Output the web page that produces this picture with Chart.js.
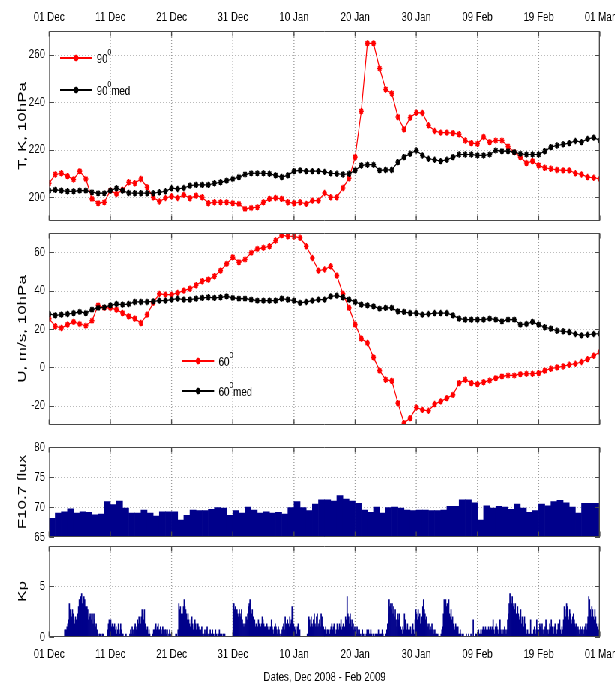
<!DOCTYPE html>
<html>
<head>
<meta charset="utf-8">
<script src="https://cdn.jsdelivr.net/npm/chart.js@4"></script>
<style>
  html, body { margin: 0; padding: 0; background: #fff; overflow: hidden; }
  /* the figure is drawn wider and squeezed sideways, like the original export */
  #wrap { position: relative; width: 820px; height: 686px; transform: scaleX(0.75); transform-origin: 0 0; }
  #wrap canvas { position: absolute; left: 0; top: 0; }
</style>
</head>
<body>
<div id="wrap">
  <canvas id="chartT" width="820" height="686"></canvas>
  <canvas id="chartU" width="820" height="686"></canvas>
  <canvas id="chartF" width="820" height="686"></canvas>
  <canvas id="chartKp" width="820" height="686"></canvas>
</div>
<script>
// x axis: days since 01 Dec 2008
const xTicks = [0, 10, 20, 30, 40, 50, 60, 70, 80, 90];
const dateLabels = ['01 Dec', '11 Dec', '21 Dec', '31 Dec', '10 Jan', '20 Jan', '30 Jan', '09 Feb', '19 Feb', '01 Mar'];
const xTitle = 'Dates, Dec 2008 - Feb 2009';
const yTitles = ['T, K, 10hPa', 'U, m/s, 10hPa', 'F10.7 flux', 'Kp'];

const tTicks = [200, 220, 240, 260];
const uTicks = [-20, 0, 20, 40, 60];
const fTicks = [65, 70, 75, 80];
const kpTicks = [0, 5];

const tLabels = ['90⁰', '90⁰med'];
const uLabels = ['60⁰', '60⁰med'];

// T at 10 hPa, 90N and median
const t90 = [
  205.9, 209.6, 210.1, 208.9, 207.5, 211.0, 207.7, 199.3, 197.5, 197.9,
  202.8, 201.4, 203.1, 206.3, 205.9, 207.7, 204.2, 200.0, 198.2, 199.7,
  200.4, 199.7, 201.0, 199.6, 200.7, 200.0, 197.5, 197.9, 197.9, 197.9,
  197.5, 197.2, 195.1, 195.5, 195.8, 197.9, 199.3, 199.7, 199.3, 197.9,
  197.5, 197.9, 197.2, 198.6, 198.6, 201.8, 200.0, 200.0, 203.9, 208.0,
  216.9, 236.2, 264.8, 264.8, 254.2, 245.4, 243.7, 233.8, 228.6, 233.5,
  235.6, 235.5, 230.3, 227.9, 227.2, 227.2, 227.0, 226.5, 223.9, 222.8,
  222.5, 225.4, 223.2, 223.9, 223.9, 221.4, 219.0, 216.9, 214.4, 215.2,
  213.4, 212.4, 212.0, 211.5, 211.3, 211.3, 210.1, 209.6, 208.5, 208.2,
  207.7
];
const t90med = [
  202.8, 203.1, 202.8, 202.5, 202.5, 202.8, 202.8, 202.1, 201.7, 201.7,
  202.8, 203.8, 202.8, 201.8, 201.7, 201.7, 201.7, 201.7, 202.1, 202.5,
  203.8, 203.5, 203.9, 204.9, 205.2, 205.2, 205.2, 205.9, 206.3, 207.0,
  207.7, 208.5, 209.6, 210.1, 210.1, 210.1, 209.9, 209.2, 208.5, 209.2,
  211.0, 211.3, 211.0, 211.0, 211.0, 210.7, 210.1, 209.9, 209.6, 209.9,
  211.3, 213.4, 213.7, 213.7, 211.3, 211.5, 211.5, 214.8, 216.9, 218.3,
  219.7, 217.6, 216.2, 215.8, 215.2, 215.8, 216.9, 218.0, 218.0, 218.0,
  217.6, 217.6, 218.0, 219.7, 219.4, 219.4, 219.0, 218.3, 218.0, 218.0,
  218.0, 219.4, 221.1, 221.8, 222.3, 222.8, 223.7, 223.2, 224.6, 225.1,
  223.9
];

// U at 10 hPa, 60N and median
const u60 = [
  25.4, 21.4, 20.5, 22.3, 23.7, 22.6, 21.7, 24.3, 32.3, 31.0,
  31.0, 30.1, 28.3, 26.6, 25.4, 23.1, 27.5, 33.6, 38.3, 37.9,
  37.9, 38.8, 40.0, 41.0, 42.8, 44.9, 45.7, 47.5, 50.4, 53.9,
  57.4, 54.8, 56.2, 59.7, 61.7, 62.3, 63.1, 66.1, 68.9, 68.3,
  68.2, 67.5, 63.1, 57.0, 50.4, 51.0, 52.7, 47.8, 38.3, 31.0,
  22.3, 15.0, 12.7, 5.2, -1.7, -6.4, -7.0, -18.6, -29.0, -26.4,
  -20.9, -22.1, -22.6, -19.1, -17.7, -16.0, -14.3, -8.2, -6.4, -8.2,
  -8.7, -7.7, -6.8, -5.6, -4.7, -4.2, -4.2, -3.5, -3.3, -3.3,
  -3.0, -1.7, -0.7, 0.0, 0.5, 1.4, 1.9, 2.8, 4.3, 6.1,
  8.0
];
const u60med = [
  27.8, 27.1, 27.5, 27.8, 28.3, 28.9, 28.3, 30.1, 31.0, 31.3,
  32.3, 33.0, 32.7, 33.0, 34.1, 34.1, 34.1, 34.4, 34.8, 34.8,
  35.3, 35.8, 35.3, 35.3, 35.8, 36.2, 36.5, 36.2, 36.5, 37.0,
  36.2, 35.8, 35.8, 35.3, 34.8, 34.8, 34.8, 34.8, 35.8, 35.3,
  34.8, 33.6, 34.1, 34.8, 35.3, 35.3, 37.0, 37.4, 36.5, 35.3,
  34.1, 32.7, 32.3, 31.8, 30.6, 31.0, 31.0, 29.2, 28.9, 28.3,
  28.3, 27.5, 27.8, 28.3, 28.3, 28.3, 27.1, 25.4, 24.9, 24.9,
  24.9, 24.9, 25.4, 24.9, 24.0, 24.9, 24.9, 22.3, 22.6, 23.7,
  22.3, 20.9, 20.2, 19.1, 18.8, 18.4, 17.4, 16.7, 17.0, 17.4,
  17.6
];

// daily F10.7
const f107 = [
  68.1, 69.0, 69.2, 69.7, 69.0, 69.2, 69.1, 68.7, 68.8, 70.9,
  70.4, 71.0, 69.8, 69.0, 69.0, 69.5, 69.0, 68.5, 69.2, 69.2,
  69.2, 67.8, 68.6, 69.5, 69.4, 69.4, 69.6, 69.9, 69.8, 68.6,
  69.4, 69.0, 70.0, 69.5, 69.0, 69.2, 69.0, 69.1, 68.8, 69.9,
  70.9, 69.9, 69.4, 70.5, 71.2, 71.2, 71.0, 71.9, 71.3, 71.0,
  70.6, 69.5, 69.1, 70.0, 69.0, 69.9, 70.0, 69.8, 69.5, 69.4,
  69.5, 69.5, 69.4, 69.4, 69.5, 70.1, 70.1, 71.2, 71.2, 70.7,
  67.8, 70.2, 69.8, 70.1, 70.0, 69.6, 70.5, 69.8, 69.1, 69.4,
  70.5, 70.2, 70.9, 71.1, 70.7, 70.0, 69.0, 70.6, 70.6, 70.6
];

// 3-hourly Kp, one row per day
const kp = [
  0, 0, 0, 0, 0, 0, 0, 0,
  0, 0, 0, 0, 0, 0, 0, 0,
  0, 0, 0, 0, 0.7, 0.7, 0.7, 1,
  1.3, 1.7, 3.3, 2.7, 2.3, 2, 2.7, 2.3,
  1.7, 1.3, 2, 1.7, 1.3, 2.3, 3, 3.7,
  3.7, 4, 4.3, 3.3, 2.7, 4, 3.7, 3,
  2.3, 3, 2.7, 1.7, 2.3, 2, 2.3, 1.7,
  2.3, 1.3, 2.3, 1.7, 1, 1.3, 0.7, 0.3,
  0, 0.3, 0.3, 0, 0, 0.3, 0.3, 0,
  0, 0, 0, 0, 0.7, 1.3, 1.7, 1.3,
  1.7, 1, 1.3, 0.7, 1, 1.3, 0.7, 1,
  0.3, 0.7, 1.3, 0.7, 0.3, 1.3, 0.7, 0.3,
  0.3, 0, 0, 0, 0.3, 0, 0, 0,
  0, 0.3, 0.7, 0.3, 1, 0.7, 0.3, 1,
  1.3, 0.7, 1, 1.7, 1.3, 2, 1.7, 1.3,
  2, 2.7, 2.3, 1.7, 2.7, 1.3, 1, 0.7,
  1, 0.3, 0.7, 0.3, 0, 0, 0, 0.3,
  0.7, 0.7, 1, 1.3, 0.7, 1, 1.3, 0.7,
  0.7, 1, 0.7, 0.3, 1, 0.7, 0.3, 0.7,
  0.7, 0.3, 0.7, 0, 0.3, 0.7, 0.3, 0,
  0, 0, 0, 0, 0, 0.3, 0.3, 0,
  0.7, 3.3, 2.7, 3, 2.3, 1.7, 2.3, 3,
  3.7, 3, 2.7, 2.3, 1.7, 2.3, 1.7, 1.3,
  1, 1.7, 2, 1.3, 0.7, 1, 1.7, 1.3,
  0.7, 0.3, 1.3, 1, 0.7, 0.3, 0.7, 1,
  0.3, 0, 0.3, 0.7, 0.3, 0.7, 1, 0.3,
  0, 0.3, 0.7, 0.3, 0.3, 0.7, 0.3, 0,
  0.3, 0.7, 0.3, 0, 0.3, 0.3, 0.7, 0.3,
  0.3, 0.3, 0, 0.3, 0.3, 0.3, 0, 0,
  0, 0, 0, 0, 0, 0, 0, 0,
  3.3, 3.3, 2.7, 3, 2.3, 2.7, 2.3, 2,
  2.7, 2.3, 2, 2.7, 1.7, 1.3, 1, 1.3,
  1.3, 2, 1.7, 2.3, 3, 3.3, 3.7, 2.7,
  2.3, 2.7, 2, 1.3, 1.7, 1, 1.3, 1,
  1, 1.7, 1.3, 1, 1, 1.3, 2, 1.7,
  1.3, 1, 1, 0.7, 1.3, 1, 0.7, 1,
  0.7, 1, 1.7, 1, 0.7, 0.3, 1, 1.3,
  1, 0.7, 0.3, 1, 0.7, 0.3, 0, 0.3,
  0.7, 1, 1.3, 0.7, 2, 1.3, 1, 1.7,
  1.3, 1, 2, 1.3, 1.7, 3, 2.7, 1.3,
  1, 0.7, 1, 0.3, 1, 1.3, 0.3, 0.7,
  0, 0, 0, 0, 0, 0, 0, 0,
  0, 0.3, 0.3, 2, 1.7, 1, 2, 1.3,
  1, 1.7, 2.3, 1.3, 1, 2, 2.3, 1,
  1.3, 1.7, 1, 2.3, 2, 1.3, 1, 0.7,
  0.7, 1, 0.3, 0.7, 0.7, 0.3, 0.3, 0.7,
  1, 1.3, 0.7, 1, 1.3, 0.7, 0.3, 0.7,
  1.3, 1, 0.7, 1.3, 1, 1.7, 0.7, 1,
  1.3, 0.7, 1, 2, 1.7, 4, 2.3, 2,
  1.3, 2.3, 1.7, 1, 1.7, 1.3, 0.7, 1,
  0.7, 0.3, 1, 0.7, 0.3, 0.7, 0.3, 0,
  0.3, 0.7, 0.3, 0, 0.3, 0, 0.3, 0.7,
  0.3, 0.7, 0.3, 0.3, 0.7, 0.3, 0, 0.3,
  0.3, 0, 0.3, 0.3, 0, 0.3, 0.7, 0.3,
  0, 0.3, 0.3, 0.7, 0.3, 0, 0, 0.3,
  0.3, 0.7, 1.3, 2.3, 3.7, 3, 3.3, 2.7,
  3.3, 2.3, 3, 2, 2.7, 1.7, 1, 2.3,
  1.7, 2.3, 1.3, 1, 0.7, 0.3, 1, 0.7,
  2.3, 1.7, 1, 0.7, 1.3, 0.7, 0.3, 0.7,
  1, 0.3, 0.7, 1.3, 0.7, 0.3, 1.7, 2.7,
  2.3, 1.7, 2.7, 2, 2.3, 1.3, 1.7, 2,
  3, 3.7, 2.7, 2.3, 1.7, 2, 1.3, 1,
  1.3, 0.7, 1, 0.7, 1.3, 0.7, 0.3, 0.7,
  0.3, 0.7, 0.3, 0.3, 0, 0.3, 0, 0,
  0.3, 0.7, 1, 2.3, 3.7, 3.3, 3.7, 3,
  3.3, 2.7, 3.7, 2.3, 2, 2.7, 1.7, 2,
  1.3, 1, 0.7, 1.3, 1, 0.7, 1, 0.3,
  0.3, 0.7, 0.3, 0, 0.3, 0.3, 0, 0,
  0, 0.3, 0, 0, 0.3, 0, 0, 0.3,
  0, 0, 1.7, 0, 0, 0.3, 0.3, 0,
  0.3, 0.7, 0.3, 0.3, 0.7, 0.3, 0.7, 1,
  0.3, 0.7, 1, 0.7, 0.3, 0.7, 1, 0.7,
  0.7, 1, 0.7, 1, 1.7, 0.7, 0.3, 1,
  1.3, 1, 0.7, 0.3, 1, 1.7, 0.7, 0.3,
  0.7, 0.3, 0.7, 1, 0.7, 0.3, 0.7, 1.7,
  2.3, 3.3, 4.3, 3.7, 3.3, 4, 3, 3.3,
  2.7, 3.3, 2.3, 2, 3, 2.3, 1.7, 2,
  2.7, 1.3, 2, 1.7, 1, 2, 1.3, 0.7,
  0.3, 0.7, 0.3, 0, 0.3, 1.7, 0.3, 0,
  0.3, 0.7, 1, 0.7, 0.3, 1.7, 0.7, 0.3,
  0.7, 1.3, 1, 0.7, 1.3, 0.7, 0.3, 0.7,
  1, 1.7, 1.3, 0.7, 0.3, 0.7, 1.3, 1,
  1.7, 1, 0.7, 0.3, 1, 1.3, 0.7, 0.3,
  0.7, 1.3, 1, 1.7, 0.7, 0.3, 1, 0.7,
  1.7, 3, 2.7, 2, 3.3, 3, 2, 1.7,
  2.7, 2.3, 1.7, 1.3, 2, 2.3, 1.7, 1.3,
  1, 1.3, 0.7, 1, 0.7, 0.3, 1, 0.7,
  0.7, 1, 0.3, 0.7, 1, 1.3, 0.7, 1.3,
  2, 4, 3.7, 2.7, 2, 3, 2.7, 2,
  1.7, 2.7, 2, 1.3, 1, 0.3, 0.7, 1.3
];

const RED = '#ff0000';
const BLACK = '#000000';
const NAVY = '#00008b';
const FONT = "'Liberation Sans', Arial, sans-serif";
const K = 4 / 3;   // horizontal stretch of the canvas, undone by the css squeeze

// daily points sit on whole days, bars fill their day (or 3-hour slot)
const lineXY = vals => vals.map((v, i) => ({ x: i, y: v }));
const barXY = (vals, perDay) => vals.map((v, i) => ({ x: (i + 0.5) / perDay, y: v }));

// matlab look: dotted grid, box, inward ticks, legend, y label
const frame = {
    id: 'frame',
    beforeDatasetsDraw(chart, args, opts) {
        const { ctx, chartArea: a, scales: { x, y } } = chart;
        ctx.save();
        ctx.strokeStyle = '#9a9a9a';
        // vertical grid
        ctx.lineWidth = K;
        ctx.setLineDash([1, 2]);
        ctx.beginPath();
        xTicks.forEach(v => {
            const px = x.getPixelForValue(v);
            if (px > a.left + 3 && px < a.right - 3) { ctx.moveTo(px, a.top); ctx.lineTo(px, a.bottom); }
        });
        ctx.stroke();
        // horizontal grid
        ctx.lineWidth = 1;
        ctx.setLineDash([K, 2 * K]);
        ctx.beginPath();
        opts.yTicks.forEach(v => {
            const py = Math.round(y.getPixelForValue(v)) + 0.5;
            if (py > a.top + 2 && py < a.bottom - 2) { ctx.moveTo(a.left, py); ctx.lineTo(a.right, py); }
        });
        ctx.stroke();
        ctx.restore();
    },
    afterDatasetsDraw(chart, args, opts) {
        const { ctx, chartArea: a, scales: { x, y } } = chart;
        const L = a.left, R = a.right;
        const T = Math.round(a.top) + 0.5, B = Math.round(a.bottom) - 0.5;
        ctx.save();
        ctx.strokeStyle = '#4a4a4a';
        ctx.lineWidth = 1;
        ctx.beginPath();
        ctx.moveTo(L, T); ctx.lineTo(R, T);
        ctx.moveTo(L, B); ctx.lineTo(R, B);
        opts.yTicks.forEach(v => {
            const py = Math.round(y.getPixelForValue(v)) + 0.5;
            ctx.moveTo(L, py); ctx.lineTo(L + 5 * K, py);
            ctx.moveTo(R, py); ctx.lineTo(R - 5 * K, py);
        });
        ctx.stroke();
        ctx.lineWidth = K;
        ctx.beginPath();
        ctx.moveTo(L + K / 2, T); ctx.lineTo(L + K / 2, B);
        ctx.moveTo(R - K / 2, T); ctx.lineTo(R - K / 2, B);
        xTicks.forEach(v => {
            const px = x.getPixelForValue(v);
            ctx.moveTo(px, T); ctx.lineTo(px, T + 5);
            ctx.moveTo(px, B); ctx.lineTo(px, B - 5);
        });
        ctx.stroke();

        // legend
        if (opts.legend) {
            const lg = opts.legend;
            chart.data.datasets.forEach((ds, i) => {
                const ly = lg.y + i * lg.dy;
                ctx.strokeStyle = ds.borderColor;
                ctx.lineWidth = 2;
                ctx.beginPath();
                ctx.moveTo(lg.x, ly); ctx.lineTo(lg.x + lg.len, ly);
                ctx.stroke();
                Chart.helpers.drawPoint(ctx, { pointStyle: 'star', radius: 3.2, borderWidth: 1.6 }, lg.x + lg.len / 2, ly);
                // text with raised "0"
                const parts = ds.label.split('⁰');
                let tx = lg.x + lg.len + 6;
                ctx.fillStyle = '#000';
                ctx.textBaseline = 'middle';
                ctx.textAlign = 'left';
                ctx.font = '13px ' + FONT;
                ctx.fillText(parts[0], tx, ly + 1);
                tx += ctx.measureText(parts[0]).width;
                ctx.font = '9px ' + FONT;
                ctx.fillText('0', tx, ly - 5);
                tx += ctx.measureText('0').width;
                ctx.font = '13px ' + FONT;
                if (parts[1]) ctx.fillText(parts[1], tx, ly + 1);
            });
        }

        // rotated y label
        ctx.translate(22.5 * K, (a.top + a.bottom) / 2);
        ctx.rotate(-Math.PI / 2);
        ctx.scale(1, 0.9);
        ctx.font = '17px ' + FONT;
        ctx.fillStyle = '#000';
        ctx.textAlign = 'center';
        ctx.textBaseline = 'middle';
        ctx.fillText(opts.title, 0, 0);
        ctx.restore();
    }
};

function makePanel(id, p) {
    const xAxis = {
        type: 'linear',
        min: 0,
        max: 90,
        offset: false,
        position: p.xPos || 'bottom',
        display: !!p.xPos,
        grid: { display: false, drawTicks: false },
        border: { display: false },
        afterBuildTicks: s => { s.ticks = xTicks.map(v => ({ value: v })); },
        afterFit: s => {
            s.height = p.xHeight || 0;
            s.paddingLeft = 0;
            s.paddingRight = 0;
        },
        ticks: {
            autoSkip: false,
            maxRotation: 0,
            padding: p.xPos === 'top' ? 6 : 10,
            color: '#000',
            font: { family: FONT, size: 13 },
            callback: (v, i) => dateLabels[i]
        },
        title: {
            display: !!p.xTitle,
            text: p.xTitle || '',
            color: '#000',
            font: { family: FONT, size: 13 },
            padding: { top: 0, bottom: 1 }
        }
    };
    const yAxis = {
        type: 'linear',
        min: p.yMin,
        max: p.yMax,
        grid: { display: false, drawTicks: false },
        border: { display: false },
        afterBuildTicks: s => { s.ticks = p.yTicks.map(v => ({ value: v })); },
        afterFit: s => {
            s.width = 49 * K;
            s.paddingTop = 0;
            s.paddingBottom = 0;
        },
        ticks: {
            padding: 4 * K,
            color: '#000',
            font: { family: FONT, size: 13 },
            callback: v => String(v)
        }
    };
    return new Chart(document.getElementById(id), {
        type: p.type,
        data: { datasets: p.datasets },
        options: {
            responsive: false,
            animation: false,
            devicePixelRatio: 1,
            layout: { padding: { left: 0, right: 15 * K, top: p.padTop, bottom: p.padBottom } },
            plugins: {
                legend: { display: false },
                tooltip: { enabled: false },
                frame: { yTicks: p.yTicks, title: p.title, legend: p.legend }
            },
            scales: { x: xAxis, y: yAxis }
        },
        plugins: [frame]
    });
}

function lineSet(label, vals, color, order) {
    return {
        label: label,
        data: lineXY(vals),
        borderColor: color,
        backgroundColor: color,
        borderWidth: 1.2,
        pointStyle: 'star',
        pointRadius: 3.2,
        pointBorderWidth: 1.6,
        pointBorderColor: color,
        tension: 0,
        order: order
    };
}

function barSet(vals, perDay) {
    return {
        data: barXY(vals, perDay),
        backgroundColor: NAVY,
        borderWidth: 0,
        barPercentage: 1,
        categoryPercentage: 1
    };
}

makePanel('chartT', {
    type: 'line', yMin: 190, yMax: 270, yTicks: tTicks, title: yTitles[0],
    xPos: 'top', xHeight: 31, padTop: 0, padBottom: 686 - 221,
    legend: { x: 60 * K, y: 58, dy: 32, len: 32 * K },
    datasets: [lineSet(tLabels[0], t90, RED, 2), lineSet(tLabels[1], t90med, BLACK, 1)]
});

makePanel('chartU', {
    type: 'line', yMin: -30, yMax: 70, yTicks: uTicks, title: yTitles[1],
    padTop: 233, padBottom: 686 - 425,
    legend: { x: 182 * K, y: 361, dy: 30, len: 32 * K },
    datasets: [lineSet(uLabels[0], u60, RED, 2), lineSet(uLabels[1], u60med, BLACK, 1)]
});

makePanel('chartF', {
    type: 'bar', yMin: 65, yMax: 80, yTicks: fTicks, title: yTitles[2],
    padTop: 447, padBottom: 686 - 537,
    datasets: [barSet(f107, 1)]
});

makePanel('chartKp', {
    type: 'bar', yMin: 0, yMax: 9, yTicks: kpTicks, title: yTitles[3],
    xPos: 'bottom', xHeight: 49, xTitle: xTitle, padTop: 546, padBottom: 0,
    datasets: [barSet(kp, 8)]
});
</script>
</body>
</html>
